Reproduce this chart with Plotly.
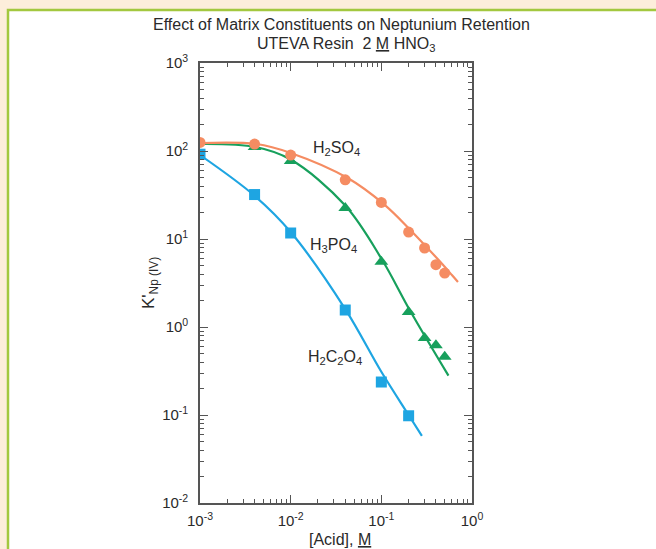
import plotly.graph_objects as go

# ---- data ----
h2so4_x = [0.001, 0.004, 0.01, 0.04, 0.1, 0.2, 0.3, 0.4, 0.5]
h2so4_y = [125, 120, 90, 47, 26, 12, 7.9, 5.1, 4.1]
h2so4_fit_x = [0.001, 0.0042, 0.01, 0.043, 0.108, 0.21, 0.426, 0.6, 0.70]
h2so4_fit_y = [123, 120, 95, 49, 24.6, 12.6, 5.8, 3.9, 3.25]

h3po4_x = [0.004, 0.01, 0.04, 0.1, 0.2, 0.3, 0.4, 0.5]
h3po4_y = [111, 77, 22.5, 5.5, 1.48, 0.75, 0.62, 0.46]
h3po4_fit_x = [0.001, 0.0041, 0.01, 0.04, 0.1, 0.21, 0.55]
h3po4_fit_y = [120, 111, 80, 24, 6.0, 1.5, 0.28]

h2c2o4_x = [0.001, 0.004, 0.01, 0.04, 0.1, 0.2]
h2c2o4_y = [92, 32, 11.7, 1.56, 0.237, 0.098]
h2c2o4_fit_x = [0.001, 0.004, 0.01, 0.04, 0.1, 0.2, 0.28]
h2c2o4_fit_y = [90, 31, 12, 1.6, 0.31, 0.1, 0.058]

x_tickvals = [0.001, 0.01, 0.1, 1]
x_ticktext = ["10<sup>-3</sup>", "10<sup>-2</sup>", "10<sup>-1</sup>", "10<sup>0</sup>"]
y_tickvals = [0.01, 0.1, 1, 10, 100, 1000]
y_ticktext = ["10<sup>-2</sup>", "10<sup>-1</sup>", "10<sup>0</sup>",
              "10<sup>1</sup>", "10<sup>2</sup>", "10<sup>3</sup>"]

ORANGE = "#F58C62"
GREEN = "#17A05C"
BLUE = "#1EA5E2"
AXC = "#555555"
TXT = "#2a2a2a"
FONT = "Liberation Sans, Arial, Helvetica, sans-serif"
BG = "#FDEEDB"

W, H = 656, 549
L, R, T, B = 200, 472, 63, 503


def pxx(x):
    return (x - L) / (R - L)


def pxy(y):
    return (B - y) / (B - T)


fig = go.Figure()

for fx, fy, c in [(h2c2o4_fit_x, h2c2o4_fit_y, BLUE),
                  (h3po4_fit_x, h3po4_fit_y, GREEN),
                  (h2so4_fit_x, h2so4_fit_y, ORANGE)]:
    fig.add_trace(go.Scatter(x=fx, y=fy, mode="lines",
                             line=dict(color=c, width=2.2, shape="spline", smoothing=1.0),
                             showlegend=False, hoverinfo="skip"))

fig.add_trace(go.Scatter(x=h2c2o4_x, y=h2c2o4_y, mode="markers",
                         marker=dict(symbol="square", size=11, color=BLUE),
                         showlegend=False))
fig.add_trace(go.Scatter(x=h3po4_x, y=h3po4_y, mode="markers",
                         marker=dict(symbol="triangle-up", size=12, color=GREEN),
                         showlegend=False))
fig.add_trace(go.Scatter(x=h2so4_x, y=h2so4_y, mode="markers",
                         marker=dict(symbol="circle", size=11, color=ORANGE),
                         showlegend=False))

minor_x = [m * 10.0 ** e for e in range(-3, 0) for m in range(2, 10)]
minor_y = [m * 10.0 ** e for e in range(-2, 3) for m in range(2, 10)]

axis_common = dict(type="log", showline=True, linecolor=AXC, linewidth=1.6,
                   mirror="ticks", ticks="inside", ticklen=8, tickwidth=1.3,
                   tickcolor=AXC, showgrid=False, zeroline=False,
                   tickmode="array",
                   tickfont=dict(family=FONT, size=15, color=TXT))

fig.update_xaxes(**axis_common, range=[-3, 0], tickvals=x_tickvals, ticktext=x_ticktext,
                 ticklabelstandoff=3,
                 minor=dict(tickmode="array", tickvals=minor_x, ticks="inside",
                            ticklen=4, tickwidth=1.1, tickcolor=AXC, showgrid=False))
fig.update_yaxes(**axis_common, range=[-2, 3], tickvals=y_tickvals, ticktext=y_ticktext,
                 ticklabelstandoff=7,
                 minor=dict(tickmode="array", tickvals=minor_y, ticks="inside",
                            ticklen=4, tickwidth=1.1, tickcolor=AXC, showgrid=False))

# background frame
fig.add_shape(type="rect", xref="paper", yref="paper",
              x0=pxx(8), x1=pxx(W + 10), y0=pxy(H + 10), y1=pxy(10),
              fillcolor="white", line=dict(color="#A3C83F", width=2.5), layer="below")

ann = [
    (341, 25, "Effect of Matrix Constituents on Neptunium Retention", 16, 0),
    (346, 45, "UTEVA Resin  2 <u>M</u> HNO<sub>3</sub>", 16, 0),
    (340, 539, "[Acid], <u>M</u>", 16, 0),
    (150, 283, "K'<sub>Np (IV)</sub>", 17, -90),
    (336, 148, "H<sub>2</sub>SO<sub>4</sub>", 16, 0),
    (333, 245, "H<sub>3</sub>PO<sub>4</sub>", 16, 0),
    (335, 357, "H<sub>2</sub>C<sub>2</sub>O<sub>4</sub>", 16, 0),
]
for x, y, t, s, a in ann:
    fig.add_annotation(x=pxx(x), y=pxy(y), xref="paper", yref="paper", text=t,
                       showarrow=False, textangle=a, xanchor="center", yanchor="middle",
                       font=dict(family=FONT, size=s, color=TXT))

fig.update_layout(width=W, height=H, autosize=False,
                  margin=dict(l=L, r=W - R, t=T, b=H - B, pad=0),
                  paper_bgcolor=BG, plot_bgcolor="rgba(0,0,0,0)",
                  font=dict(family=FONT, color=TXT))

fig.write_html("out.html", config={"displayModeBar": False},
               post_script="document.body.style.margin='0';"
                           "document.body.style.background='%s';" % BG)
